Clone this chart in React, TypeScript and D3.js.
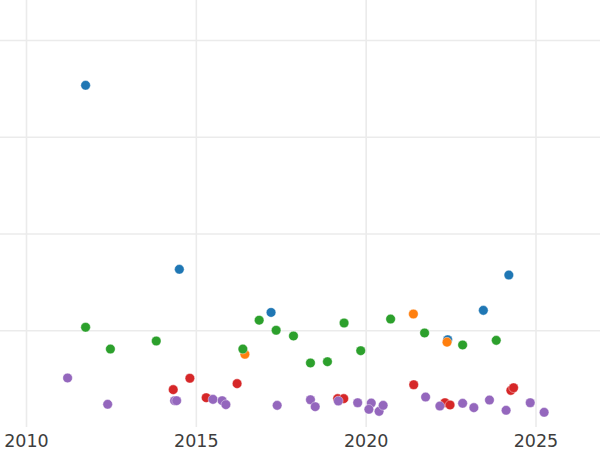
import React from "react";
import * as d3 from "d3";

const WIDTH = 600;
const HEIGHT = 450;

// x tick labels (years)
const xTicks = [2010, 2015, 2020, 2025];
// y gridline values (no labels shown)
const yTicks = [0, 100, 200, 300, 400];

// series: [year, value]
const blueSeries: [number, number][] = [
  [2011.74, 353.7], [2014.5, 163.5], [2017.2, 118.9], [2022.4, 90.7], [2023.45, 121.1], [2024.2, 157.6],
];
const orangeSeries: [number, number][] = [
  [2016.43, 75.7], [2021.39, 117.3], [2022.38, 88.2],
];
const greenSeries: [number, number][] = [
  [2011.74, 103.6], [2012.47, 81.1], [2013.82, 89.4], [2016.37, 81.1], [2016.85, 110.9],
  [2017.35, 100.5], [2017.86, 94.6], [2018.36, 66.7], [2018.86, 68.0], [2019.35, 108.0],
  [2019.84, 79.4], [2020.72, 112.1], [2021.72, 97.7], [2022.84, 85.3], [2023.83, 90.1],
];
const redSeries: [number, number][] = [
  [2014.32, 39.1], [2014.81, 50.9], [2015.29, 30.8], [2016.2, 45.3], [2019.16, 29.8],
  [2019.34, 29.8], [2021.4, 44.2], [2022.32, 25.6], [2022.47, 23.3], [2024.26, 38.4], [2024.34, 41.1],
];
const purpleSeries: [number, number][] = [
  [2011.21, 51.2], [2012.39, 24.0], [2014.36, 27.7], [2014.42, 27.7], [2015.49, 29.1],
  [2015.76, 27.7], [2015.87, 23.6], [2017.38, 22.9], [2018.36, 28.7], [2018.5, 21.5],
  [2019.18, 27.4], [2019.75, 25.6], [2020.15, 25.3], [2020.08, 18.8], [2020.38, 16.7],
  [2020.5, 22.9], [2021.75, 31.5], [2022.17, 22.2], [2022.84, 25.0], [2023.17, 20.5],
  [2023.63, 28.4], [2024.12, 17.8], [2024.83, 25.6], [2025.24, 15.7],
];

const seriesList = [
  { data: blueSeries, color: "#1f77b4" },
  { data: orangeSeries, color: "#ff7f0e" },
  { data: greenSeries, color: "#2ca02c" },
  { data: redSeries, color: "#d62728" },
  { data: purpleSeries, color: "#9467bd" },
];

export default function App() {
  const x = d3.scaleLinear().domain([2010, 2025]).range([26.5, 536]);
  const y = d3.scaleLinear().domain([0, 400]).range([427.5, 40.5]);
  const plotBottom = 427;

  return (
    <svg
      width={WIDTH}
      height={HEIGHT}
      style={{ position: "absolute", left: 0, top: 0, background: "#fff" }}
      fontFamily="'DejaVu Sans', sans-serif"
    >
      <rect x={0} y={0} width={WIDTH} height={HEIGHT} fill="#fff" />
      <g>
        {yTicks.slice(1).map((t) => (
          <line key={"h" + t} x1={0} x2={WIDTH} y1={y(t)} y2={y(t)} stroke="#ebebeb" strokeWidth={1.5} />
        ))}
        {xTicks.map((t) => (
          <line key={"v" + t} x1={x(t)} x2={x(t)} y1={0} y2={plotBottom} stroke="#ebebeb" strokeWidth={1.6} />
        ))}
      </g>
      <g>
        {seriesList.map((s, si) => (
          <g key={si}>
            {s.data.map((d, i) => (
              <circle key={i} cx={x(d[0])} cy={y(d[1])} r={4.8} fill={s.color} stroke="#fff" strokeWidth={0.4} />
            ))}
          </g>
        ))}
      </g>
      <g>
        {xTicks.map((t) => (
          <text key={"t" + t} x={x(t)} y={447} textAnchor="middle" fontSize={17.5} fill="#3d3d3d">
            {t}
          </text>
        ))}
      </g>
    </svg>
  );
}
